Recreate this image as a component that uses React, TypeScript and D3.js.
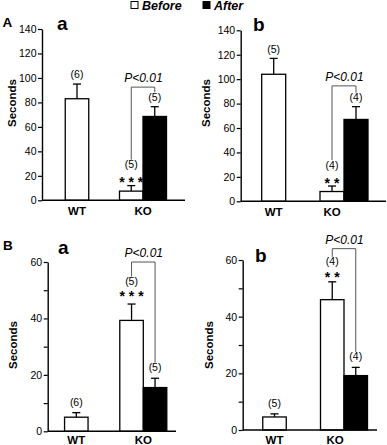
import { useEffect, useRef } from 'react';
import * as d3 from 'd3';

const FONT = '"Liberation Sans", Arial, Helvetica, sans-serif';

// bars in every panel: WT before, KO before, KO after
const barGroup = ['WT', 'KO', 'KO'];
const barCond = ['Before', 'Before', 'After'];
const groups = ['WT', 'KO'];

// A a
const aaMeans = [83, 7.5, 68.5];
const aaSem = [12, 4.5, 8];
const aaN = ['(6)', '(5)', '(5)'];
// A b
const abMeans = [104, 8, 67];
const abSem = [13, 4.5, 10.5];
const abN = ['(5)', '(4)', '(4)'];
// B a
const baMeans = [5, 39.3, 15.5];
const baSem = [1.6, 5.8, 3.3];
const baN = ['(6)', '(5)', '(5)'];
// B b
const bbMeans = [4.6, 46, 19.2];
const bbSem = [1.1, 6.3, 2.9];
const bbN = ['(5)', '(4)', '(4)'];

const stars = ['* * *', '* *', '* * *', '* *'];
const bracketTops = [92.5, 94.5, 60, 64];
const pLabel = 'P<0.01';

const panels = [
  {
    letter: 'a', means: aaMeans, sem: aaSem, n: aaN, stars: stars[0], bracket: bracketTops[0],
    yMax: 140, tickStep: 20, labelStep: 20, yRange: [200.3, 29], axisX: 42, axisEnd: 185,
    wtCenter: 77, koCenter: 143, barW: 23.5, koShift: 0, letterPos: [57, 29.5],
    secPos: [15.5, 103], nGap: 9, starGap: 6.5, nStarGap: 14,
  },
  {
    letter: 'b', means: abMeans, sem: abSem, n: abN, stars: stars[1], bracket: bracketTops[1],
    yMax: 140, tickStep: 20, labelStep: 20, yRange: [201.3, 30.3], axisX: 240.7, axisEnd: 386,
    wtCenter: 273.7, koCenter: 344, barW: 24, koShift: -12, letterPos: [253, 30.5],
    secPos: [210, 103], nGap: 8.5, starGap: 6, nStarGap: 14.5,
  },
  {
    letter: 'a', means: baMeans, sem: baSem, n: baN, stars: stars[2], bracket: bracketTops[2],
    yMax: 60, tickStep: 10, labelStep: 20, yRange: [431.3, 262], axisX: 47.7, axisEnd: 176,
    wtCenter: 76.3, koCenter: 143.3, barW: 23.5, koShift: 0, letterPos: [58, 254.3],
    secPos: [16.5, 345], nGap: 10, starGap: 10.5, nStarGap: 11.5,
  },
  {
    letter: 'b', means: bbMeans, sem: bbSem, n: bbN, stars: stars[3], bracket: bracketTops[3],
    yMax: 60, tickStep: 10, labelStep: 20, yRange: [430, 260], axisX: 242.7, axisEnd: 377,
    wtCenter: 274.5, koCenter: 344, barW: 23.5, koShift: -9, letterPos: [255, 261.5],
    secPos: [212.5, 345], nGap: 10, starGap: 7.5, nStarGap: 12,
  },
];

function drawPanel(svg, p) {
  const y = d3.scaleLinear().domain([0, p.yMax]).range(p.yRange);
  const x = d3.scalePoint().domain(groups).range([p.wtCenter, p.koCenter]);
  const cx = (i) =>
    x(barGroup[i]) + (barGroup[i] === 'KO' ? (barCond[i] === 'Before' ? -p.barW / 2 : p.barW / 2) : 0);
  const idx = [0, 1, 2];
  const g = svg.append('g');

  // y axis
  const axis = d3
    .axisLeft(y)
    .tickValues(d3.range(0, p.yMax + 1, p.tickStep))
    .tickSize(4)
    .tickSizeOuter(0)
    .tickPadding(1.5)
    .tickFormat((d) => (d % p.labelStep === 0 ? String(d) : ''));
  const ax = g.append('g').attr('transform', `translate(${p.axisX},0)`).call(axis);
  ax.select('.domain').attr('stroke-width', 1.4);
  ax.selectAll('.tick line').attr('stroke-width', 1.2);
  ax.selectAll('text').attr('font-size', 10.5).attr('font-family', FONT).attr('fill', '#000');

  // error bars (upper only)
  idx.forEach((i) => {
    const top = y(p.means[i] + p.sem[i]);
    g.append('line').attr('x1', cx(i)).attr('x2', cx(i)).attr('y1', y(p.means[i])).attr('y2', top)
      .attr('stroke', '#000').attr('stroke-width', 1.3);
    g.append('line').attr('x1', cx(i) - 4).attr('x2', cx(i) + 4).attr('y1', top).attr('y2', top)
      .attr('stroke', '#000').attr('stroke-width', 1.3);
  });

  // bars
  g.selectAll('.bar')
    .data(idx)
    .enter()
    .append('rect')
    .attr('x', (i) => cx(i) - p.barW / 2)
    .attr('y', (i) => y(p.means[i]))
    .attr('width', p.barW)
    .attr('height', (i) => y(0) - y(p.means[i]))
    .attr('fill', (i) => (barCond[i] === 'After' ? '#000' : '#fff'))
    .attr('stroke', '#000')
    .attr('stroke-width', 1.3);

  // x baseline
  g.append('line').attr('x1', p.axisX).attr('x2', p.axisEnd).attr('y1', y(0)).attr('y2', y(0))
    .attr('stroke', '#000').attr('stroke-width', 1.4);

  // category labels
  groups.forEach((c) => {
    g.append('text')
      .attr('x', x(c) + (c === 'KO' ? p.koShift : 0))
      .attr('y', Math.min(y(0) + 14.2, 444))
      .attr('text-anchor', 'middle')
      .attr('font-family', FONT)
      .attr('font-weight', 'bold')
      .attr('font-size', 11.5)
      .text(c);
  });

  // n labels
  const nCenter = idx.map((i) => {
    const top = y(p.means[i] + p.sem[i]);
    if (i === 1) return top - p.starGap - p.nStarGap;
    return top - p.nGap;
  });
  idx.forEach((i) => {
    g.append('text')
      .attr('x', cx(i))
      .attr('y', nCenter[i] + 3)
      .attr('text-anchor', 'middle')
      .attr('font-family', FONT)
      .attr('font-size', 10.5)
      .text(p.n[i]);
  });

  // stars
  const starCenter = y(p.means[1] + p.sem[1]) - p.starGap;
  g.append('text')
    .attr('x', cx(1))
    .attr('y', starCenter + 7.8)
    .attr('text-anchor', 'middle')
    .attr('font-family', FONT)
    .attr('font-weight', 'bold')
    .attr('font-size', 14)
    .text(p.stars);

  // significance bracket
  const yb = y(p.bracket);
  const path = d3.path();
  path.moveTo(cx(1), nCenter[1] - 5.5);
  path.lineTo(cx(1), yb);
  path.lineTo(cx(2), yb);
  path.lineTo(cx(2), nCenter[2] - 5.5);
  g.append('path').attr('d', path.toString()).attr('fill', 'none').attr('stroke', '#555').attr('stroke-width', 1);
  g.append('text')
    .attr('x', (cx(1) + cx(2)) / 2 + 0.5)
    .attr('y', yb - 5)
    .attr('text-anchor', 'middle')
    .attr('font-family', FONT)
    .attr('font-style', 'italic')
    .attr('font-size', 12)
    .text(pLabel);

  // panel letter
  g.append('text')
    .attr('x', p.letterPos[0])
    .attr('y', p.letterPos[1])
    .attr('font-family', FONT)
    .attr('font-weight', 'bold')
    .attr('font-size', 19)
    .text(p.letter);

  // y title
  g.append('text')
    .attr('transform', `translate(${p.secPos[0]},${p.secPos[1]}) rotate(-90)`)
    .attr('text-anchor', 'middle')
    .attr('font-family', FONT)
    .attr('font-weight', 'bold')
    .attr('font-size', 11.5)
    .text('Seconds');
}

export default function App() {
  const ref = useRef(null);

  useEffect(() => {
    const svg = d3.select(ref.current);
    svg.selectAll('*').remove();

    panels.forEach((p) => drawPanel(svg, p));

    // row letters
    svg.append('text').attr('x', 2.5).attr('y', 26.5).attr('font-family', FONT)
      .attr('font-weight', 'bold').attr('font-size', 13.5).text('A');
    svg.append('text').attr('x', 3).attr('y', 250).attr('font-family', FONT)
      .attr('font-weight', 'bold').attr('font-size', 13.5).text('B');

    // legend
    const legend = [
      { label: 'Before', fill: '#fff', x: 131 },
      { label: 'After', fill: '#000', x: 203 },
    ];
    legend.forEach((l) => {
      svg.append('rect').attr('x', l.x).attr('y', 1.5).attr('width', 7).attr('height', 7)
        .attr('fill', l.fill).attr('stroke', '#000').attr('stroke-width', 1);
      svg.append('text').attr('x', l.x + 11).attr('y', 10).attr('font-family', FONT)
        .attr('font-weight', 'bold').attr('font-style', 'italic').attr('font-size', 12.5).text(l.label);
    });
  }, []);

  return (
    <svg
      ref={ref}
      width={387}
      height={445}
      style={{ position: 'absolute', left: 0, top: 0, background: '#fff' }}
    />
  );
}
